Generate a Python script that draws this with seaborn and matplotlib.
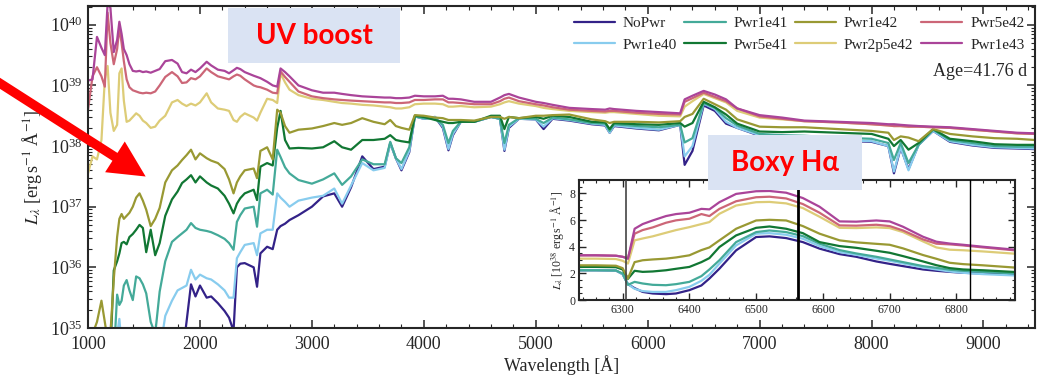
import numpy as np
import pandas as pd
import matplotlib
matplotlib.use("Agg")
import matplotlib.pyplot as plt
import seaborn as sns
from matplotlib.patches import Rectangle, FancyArrowPatch
from matplotlib.ticker import MultipleLocator

# model names and colours (legend order, column-major)
models = ["NoPwr", "Pwr1e40", "Pwr1e41", "Pwr5e41", "Pwr1e42", "Pwr2p5e42", "Pwr5e42", "Pwr1e43"]
colors = ["#332288", "#88CCEE", "#44AA99", "#117733", "#999933", "#DDCC77", "#CC6677", "#AA4499"]

# ---- main panel: log10 L_lambda ----
wave = [1000, 1040, 1080, 1120, 1150, 1175, 1200, 1230, 1260, 1280,
        1300, 1320, 1345, 1370, 1400, 1430, 1460, 1490, 1520, 1560,
        1600, 1640, 1690, 1750, 1800, 1840, 1880, 1920, 1960, 2000,
        2060, 2100, 2160, 2220, 2260, 2300, 2330, 2360, 2400, 2480,
        2510, 2540, 2600, 2650, 2690, 2720, 2760, 2800, 2880, 3000,
        3100, 3200, 3270, 3350, 3450, 3550, 3650, 3700, 3750, 3800,
        3870, 3920, 4000, 4100, 4170, 4220, 4260, 4330, 4450, 4600,
        4680, 4720, 4760, 4850, 5000, 5070, 5150, 5300, 5500, 5620,
        5660, 5700, 5900, 6100, 6290, 6330, 6400, 6500, 6600, 6700,
        6800, 7000, 7200, 7400, 7700, 8000, 8150, 8200, 8260, 8330,
        8420, 8550, 8700, 8900, 9100, 9300, 9460]

nopwr = [34.5, 34.5, 34.5, 34.5, 34.5, 34.5, 34.5, 34.5, 34.5, 34.5,
         34.5, 34.5, 34.5, 34.5, 34.5, 34.5, 34.5, 34.5, 34.5, 34.5,
         34.5, 34.5, 34.5, 34.5, 34.5, 34.5, 35.1, 35.72, 35.52, 35.70,
         35.50, 35.52, 35.41, 35.28, 35.17, 34.95, 36.0, 36.06, 36.07, 36.0,
         35.68, 36.23, 36.34, 36.30, 36.62, 36.68, 36.72, 36.78, 36.86, 37.0,
         37.17, 37.22, 37.0, 37.32, 37.83, 37.62, 37.66, 38.05, 37.80, 37.60,
         37.90, 38.49, 38.45, 38.48, 38.30, 37.93, 38.18, 38.40, 38.40, 38.48,
         38.45, 37.92, 38.30, 38.45, 38.44, 38.28, 38.45, 38.42, 38.36, 38.34,
         38.22, 38.33, 38.29, 38.26, 38.35, 37.69, 37.92, 38.67, 38.58, 38.37,
         38.30, 38.17, 38.14, 38.12, 38.09, 38.07, 38.0, 37.55, 37.97, 37.62,
         38.02, 38.25, 38.07, 38.01, 37.97, 37.96, 37.95]

pwr1e40 = [34.5, 34.5, 34.5, 34.5, 34.5, 34.5, 34.5, 34.5, 34.9, 35.15,
           34.7, 34.5, 34.5, 34.5, 34.5, 34.5, 34.5, 34.5, 34.5, 34.5,
           34.5, 34.6, 35.2, 35.45, 35.62, 35.66, 35.70, 35.96, 35.80, 35.88,
           35.82, 35.80, 35.72, 35.62, 35.50, 35.50, 36.15, 36.25, 36.37, 36.40,
           36.20, 36.56, 36.62, 36.62, 37.22, 37.15, 37.08, 37.0, 37.10, 37.15,
           37.18, 37.30, 37.05, 37.35, 37.72, 37.60, 37.64, 38.05, 37.80, 37.62,
           37.92, 38.49, 38.45, 38.48, 38.32, 37.95, 38.20, 38.40, 38.40, 38.48,
           38.45, 37.94, 38.32, 38.45, 38.44, 38.32, 38.46, 38.43, 38.37, 38.35,
           38.22, 38.34, 38.30, 38.27, 38.35, 37.83, 38.0, 38.70, 38.61, 38.40,
           38.30, 38.18, 38.15, 38.13, 38.10, 38.08, 38.0, 37.58, 37.98, 37.60,
           38.02, 38.25, 38.08, 38.02, 37.98, 37.97, 37.96]

pwr1e41 = [34.5, 34.5, 34.5, 34.5, 34.5, 34.5, 34.5, 34.5, 35.55, 35.38,
           35.45, 35.70, 35.79, 35.62, 35.46, 35.85, 35.82, 35.72, 35.57, 35.10,
           34.9, 35.6, 36.10, 36.42, 36.50, 36.56, 36.62, 36.73, 36.65, 36.62,
           36.60, 36.58, 36.53, 36.47, 36.40, 36.29, 36.75, 36.86, 36.97, 37.0,
           36.67, 37.22, 37.28, 37.20, 37.94, 37.82, 37.65, 37.55, 37.44, 37.38,
           37.45, 37.55, 37.36, 37.50, 37.78, 37.70, 37.70, 38.07, 37.80, 37.72,
           37.98, 38.49, 38.46, 38.45, 38.35, 38.05, 38.25, 38.40, 38.40, 38.48,
           38.45, 38.05, 38.35, 38.46, 38.45, 38.38, 38.47, 38.44, 38.38, 38.37,
           38.25, 38.36, 38.33, 38.31, 38.35, 38.06, 38.13, 38.71, 38.63, 38.46,
           38.34, 38.20, 38.18, 38.17, 38.14, 38.12, 38.05, 37.77, 38.05, 37.72,
           38.02, 38.27, 38.10, 38.05, 38.00, 37.99, 37.99]

pwr5e41 = [34.5, 34.5, 34.5, 34.5, 34.5, 34.5, 34.6, 35.95, 36.10, 36.23,
           36.40, 36.42, 36.38, 36.50, 36.55, 36.62, 36.70, 36.65, 36.25, 36.62,
           36.20, 36.40, 36.85, 37.12, 37.25, 37.39, 37.45, 37.52, 37.40, 37.50,
           37.40, 37.35, 37.30, 37.18, 37.05, 36.89, 37.05, 37.14, 37.22, 37.28,
           37.11, 37.66, 37.72, 37.68, 38.30, 38.58, 38.10, 37.96, 37.97, 37.96,
           37.98, 38.08, 37.98, 37.94, 38.10, 38.10, 38.12, 38.18, 38.10, 38.08,
           38.06, 38.50, 38.48, 38.43, 38.40, 38.38, 38.38, 38.40, 38.40, 38.50,
           38.50, 38.28, 38.48, 38.46, 38.48, 38.45, 38.50, 38.48, 38.40, 38.39,
           38.28, 38.38, 38.36, 38.35, 38.38, 38.32, 38.38, 38.73, 38.64, 38.52,
           38.37, 38.24, 38.23, 38.24, 38.22, 38.20, 38.12, 38.00, 38.10, 37.94,
           38.05, 38.28, 38.12, 38.08, 38.03, 38.02, 38.02]

pwr1e42 = [35.0, 34.9, 35.1, 35.45, 35.1, 34.8, 34.9, 35.8, 36.5, 36.8,
           36.88, 36.80, 36.85, 36.90, 37.0, 37.15, 37.22, 37.10, 36.95, 36.68,
           36.80, 36.98, 37.40, 37.60, 37.68, 37.77, 37.85, 37.94, 37.78, 37.88,
           37.80, 37.76, 37.72, 37.62, 37.45, 37.22, 37.40, 37.50, 37.60, 37.63,
           37.47, 37.92, 37.98, 37.78, 38.60, 38.55, 38.33, 38.22, 38.27, 38.29,
           38.33, 38.38, 38.35, 38.38, 38.46, 38.40, 38.36, 38.43, 38.33, 38.30,
           38.27, 38.51, 38.50, 38.47, 38.46, 38.43, 38.43, 38.43, 38.42, 38.48,
           38.48, 38.45, 38.48, 38.46, 38.50, 38.50, 38.51, 38.52, 38.44, 38.41,
           38.38, 38.40, 38.40, 38.39, 38.41, 38.48, 38.53, 38.78, 38.69, 38.60,
           38.44, 38.32, 38.31, 38.31, 38.28, 38.25, 38.22, 38.10, 38.16, 38.14,
           38.08, 38.28, 38.20, 38.16, 38.13, 38.12, 38.10]

pwr2p5e42 = [37.55, 37.83, 37.78, 38.10, 39.10, 39.32, 38.55, 38.25, 38.35, 39.20,
             39.28, 38.75, 38.40, 38.42, 38.48, 38.54, 38.50, 38.42, 38.38, 38.30,
             38.32, 38.42, 38.50, 38.72, 38.76, 38.70, 38.66, 38.70, 38.67, 38.72,
             38.87, 38.72, 38.62, 38.60, 38.58, 38.43, 38.40, 38.48, 38.54, 38.47,
             38.42, 38.55, 38.78, 38.76, 38.71, 39.20, 39.05, 38.93, 38.84, 38.78,
             38.76, 38.73, 38.71, 38.70, 38.68, 38.67, 38.65, 38.64, 38.62, 38.62,
             38.64, 38.69, 38.70, 38.70, 38.69, 38.65, 38.65, 38.66, 38.64, 38.65,
             38.69, 38.72, 38.74, 38.70, 38.66, 38.63, 38.61, 38.58, 38.56, 38.55,
             38.56, 38.56, 38.53, 38.50, 38.49, 38.65, 38.74, 38.86, 38.79, 38.72,
             38.58, 38.47, 38.44, 38.41, 38.39, 38.36, 38.34, 38.33, 38.33, 38.32,
             38.32, 38.31, 38.30, 38.27, 38.24, 38.21, 38.20]

pwr5e42 = [38.60, 39.15, 39.30, 39.15, 38.98, 40.20, 39.70, 39.35, 39.60, 39.95,
           39.70, 39.40, 39.10, 38.97, 38.92, 38.90, 38.88, 38.87, 38.88, 38.87,
           38.90, 39.00, 39.14, 39.22, 39.15, 39.04, 39.05, 39.12, 39.10, 39.15,
           39.28, 39.22, 39.15, 39.12, 39.10, 39.15, 39.18, 39.16, 39.10, 39.00,
           38.98, 38.97, 38.93, 38.88, 38.87, 39.23, 39.14, 39.06, 38.90, 38.82,
           38.79, 38.77, 38.76, 38.75, 38.74, 38.73, 38.72, 38.72, 38.71, 38.71,
           38.72, 38.76, 38.76, 38.77, 38.77, 38.72, 38.72, 38.71, 38.69, 38.69,
           38.74, 38.78, 38.80, 38.74, 38.69, 38.67, 38.64, 38.60, 38.58, 38.57,
           38.58, 38.58, 38.55, 38.53, 38.52, 38.73, 38.79, 38.88, 38.81, 38.74,
           38.62, 38.49, 38.45, 38.41, 38.39, 38.36, 38.34, 38.33, 38.33, 38.32,
           38.32, 38.31, 38.30, 38.27, 38.24, 38.21, 38.20]

pwr1e43 = [39.08, 39.10, 39.80, 39.62, 39.50, 40.35, 40.28, 39.55, 39.75, 40.05,
           39.85, 39.60, 39.50, 39.35, 39.24, 39.23, 39.24, 39.22, 39.23, 39.21,
           39.24, 39.27, 39.40, 39.42, 39.36, 39.22, 39.20, 39.26, 39.22, 39.28,
           39.39, 39.33, 39.26, 39.24, 39.20, 39.25, 39.29, 39.27, 39.22, 39.16,
           39.14, 39.12, 39.06, 39.00, 38.98, 39.28, 39.22, 39.15, 39.00, 38.92,
           38.88, 38.88, 38.86, 38.84, 38.82, 38.81, 38.80, 38.80, 38.79, 38.79,
           38.80, 38.83, 38.82, 38.82, 38.83, 38.78, 38.78, 38.77, 38.73, 38.73,
           38.80, 38.84, 38.86, 38.80, 38.73, 38.71, 38.68, 38.63, 38.61, 38.60,
           38.62, 38.61, 38.58, 38.56, 38.54, 38.77, 38.83, 38.91, 38.85, 38.77,
           38.62, 38.51, 38.47, 38.42, 38.40, 38.38, 38.36, 38.36, 38.35, 38.34,
           38.33, 38.32, 38.31, 38.28, 38.25, 38.22, 38.21]

# ---- inset: L_lambda in 1e38 erg/s/A around H-alpha ----
wave_in = [6235, 6260, 6290, 6300, 6308, 6318, 6330, 6345, 6365, 6380,
           6400, 6418, 6430, 6445, 6470, 6500, 6520, 6545, 6570, 6595,
           6625, 6650, 6680, 6700, 6720, 6750, 6770, 6790, 6810, 6840, 6888]

in_nopwr = [2.24, 2.24, 2.22, 1.95, 1.20, 0.90, 0.62, 0.50, 0.45, 0.50,
            0.75, 1.10, 1.62, 2.36, 3.73, 4.73, 4.78, 4.65, 4.35, 3.86,
            3.45, 3.25, 2.90, 2.72, 2.55, 2.30, 2.20, 2.12, 2.05, 2.00, 1.92]
in_pwr1e40 = [2.24, 2.24, 2.22, 1.95, 1.20, 0.85, 0.68, 0.62, 0.62, 0.75,
              1.00, 1.45, 1.90, 2.74, 4.10, 4.98, 5.02, 4.90, 4.60, 4.05,
              3.60, 3.40, 3.12, 2.95, 2.75, 2.45, 2.30, 2.15, 2.05, 1.95, 1.85]
in_pwr1e41 = [2.24, 2.24, 2.22, 2.00, 1.15, 1.37, 1.25, 1.15, 1.12, 1.20,
              1.37, 1.80, 2.30, 2.99, 4.35, 5.10, 5.22, 5.10, 4.80, 4.23,
              3.75, 3.50, 3.25, 3.05, 2.85, 2.55, 2.42, 2.28, 2.20, 2.12, 2.00]
in_pwr5e41 = [2.49, 2.49, 2.47, 2.30, 1.60, 2.20, 2.12, 2.15, 2.24, 2.35,
              2.49, 2.85, 3.15, 3.98, 4.85, 5.42, 5.52, 5.35, 5.02, 4.35,
              4.05, 3.92, 3.70, 3.55, 3.30, 2.90, 2.62, 2.40, 2.30, 2.24, 2.11]
in_pwr1e42 = [2.61, 2.61, 2.58, 2.40, 1.62, 2.85, 2.99, 3.05, 3.11, 3.20,
              3.36, 3.75, 3.95, 4.48, 5.35, 5.97, 6.02, 5.97, 5.55, 4.98,
              4.48, 4.33, 4.22, 4.15, 3.88, 3.38, 3.10, 2.80, 2.70, 2.61, 2.44]
in_pwr2p5e42 = [3.11, 3.11, 3.08, 2.95, 2.74, 4.48, 4.62, 4.78, 5.05, 5.25,
                5.47, 5.70, 5.85, 6.47, 7.09, 7.34, 7.36, 7.25, 6.90, 6.25,
                5.42, 5.40, 5.45, 5.40, 5.10, 4.40, 3.95, 3.78, 3.74, 3.65, 3.48]
in_pwr5e42 = [3.36, 3.36, 3.33, 3.25, 3.15, 4.98, 5.25, 5.45, 5.80, 5.98,
              6.10, 6.45, 6.30, 6.84, 7.41, 7.71, 7.75, 7.62, 7.20, 6.55,
              5.60, 5.58, 5.65, 5.55, 5.22, 4.55, 4.23, 4.18, 4.10, 3.95, 3.73]
in_pwr1e43 = [3.36, 3.36, 3.33, 3.25, 3.10, 5.35, 5.70, 5.97, 6.30, 6.45,
              6.55, 6.84, 6.80, 7.34, 7.96, 8.16, 8.18, 8.05, 7.65, 7.00,
              5.90, 5.88, 5.97, 5.90, 5.50, 4.75, 4.38, 4.24, 4.15, 4.00, 3.78]

halpha_marks = [6305, 6563, 6820]

main_vals = [nopwr, pwr1e40, pwr1e41, pwr5e41, pwr1e42, pwr2p5e42, pwr5e42, pwr1e43]
inset_vals = [in_nopwr, in_pwr1e40, in_pwr1e41, in_pwr5e41, in_pwr1e42,
              in_pwr2p5e42, in_pwr5e42, in_pwr1e43]

df = pd.concat([pd.DataFrame({"wave": wave, "L": 10 ** np.array(v), "model": m})
                for m, v in zip(models, main_vals)])
dfi = pd.concat([pd.DataFrame({"wave": wave_in, "L": v, "model": m})
                 for m, v in zip(models, inset_vals)])

sns.set_theme(style="ticks")
plt.rcParams["font.family"] = ["Liberation Serif", "DejaVu Serif"]
plt.rcParams["mathtext.fontset"] = "stix"

fig = plt.figure(figsize=(10.38, 3.79), dpi=100)
ax = fig.add_axes([0.0848, 0.1346, 0.9123, 0.8496])

pal = dict(zip(models, colors))
sns.lineplot(data=df, x="wave", y="L", hue="model", hue_order=models, palette=pal,
             estimator=None, linewidth=1.6, ax=ax)
ax.set_yscale("log")
ax.set_xlim(1000, 9460)
ax.set_ylim(1e35, 10 ** 40.31)
ax.xaxis.set_major_locator(MultipleLocator(1000))
ax.xaxis.set_minor_locator(MultipleLocator(200))
ax.tick_params(which="both", direction="in", top=True, right=True, labelsize=13)
ax.tick_params(which="major", length=6, width=1.1)
ax.tick_params(which="minor", length=3, width=0.8)
ax.tick_params(axis="x", pad=6)
ax.tick_params(axis="y", pad=4)
for s in ax.spines.values():
    s.set_linewidth(1.5)
ax.set_xlabel("Wavelength [Å]", fontsize=13, labelpad=1)
ax.set_ylabel(r"$L_\lambda$ [erg$\,$s$^{-1}$ Å$^{-1}$]", fontsize=13, labelpad=4)

h, l = ax.get_legend_handles_labels()
ax.legend(h, l, loc="upper right", bbox_to_anchor=(1.0, 1.0), ncol=4, frameon=False,
          fontsize=11, handlelength=2.7, columnspacing=0.5, handletextpad=0.5,
          labelspacing=0.5, borderaxespad=0.3)
ax.text(0.992, 0.795, "Age=41.76 d", transform=ax.transAxes, ha="right", va="center",
        fontsize=13)

# inset around H-alpha
axi = fig.add_axes([0.558, 0.208, 0.420, 0.317])
sns.lineplot(data=dfi, x="wave", y="L", hue="model", hue_order=models, palette=pal,
             estimator=None, linewidth=1.6, legend=False, ax=axi)
for xm, lw, c in zip(halpha_marks, [1.2, 2.0, 1.0], ["#444444", "black", "black"]):
    axi.axvline(xm, color=c, lw=lw, zorder=5)
axi.set_xlim(6235, 6888)
axi.set_ylim(0, 9)
axi.xaxis.set_major_locator(MultipleLocator(100))
axi.xaxis.set_minor_locator(MultipleLocator(20))
axi.yaxis.set_major_locator(MultipleLocator(2))
axi.yaxis.set_minor_locator(MultipleLocator(0.5))
axi.tick_params(which="both", direction="in", top=True, right=True, labelsize=8.5, pad=3)
axi.tick_params(which="major", length=5, width=1)
axi.tick_params(which="minor", length=2.5, width=0.8)
for s in axi.spines.values():
    s.set_linewidth(1.5)
axi.set_xlabel("")
axi.set_ylabel(r"$L_\lambda$ [10$^{38}$ erg$\,$s$^{-1}$ Å$^{-1}$]", fontsize=8.5, labelpad=2)

# annotation boxes and arrow
box_col = "#dae3f3"
fig.add_artist(Rectangle((0.2197, 0.8338), 0.1657, 0.1451, transform=fig.transFigure,
                         facecolor=box_col, edgecolor="none", zorder=10))
fig.text(0.3025, 0.905, "UV boost", color="red", fontsize=20, fontweight="bold",
         family=["Lato", "DejaVu Sans"], ha="center", va="center", zorder=11)
fig.add_artist(Rectangle((0.6821, 0.4987), 0.1484, 0.1451, transform=fig.transFigure,
                         facecolor=box_col, edgecolor="none", zorder=10))
fig.text(0.7563, 0.570, "Boxy H\u03b1", color="red", fontsize=20, fontweight="bold",
         family=["Lato", "DejaVu Sans"], ha="center", va="center", zorder=11)
fig.add_artist(FancyArrowPatch((-0.005, 1 - 80 / 379), (148 / 1038, 1 - 178 / 379),
                               transform=fig.transFigure,
                               arrowstyle="simple,head_length=1.25,head_width=1.25,tail_width=0.32",
                               mutation_scale=21, color="red", lw=0, zorder=12))

fig.savefig("out.png", dpi=100)
